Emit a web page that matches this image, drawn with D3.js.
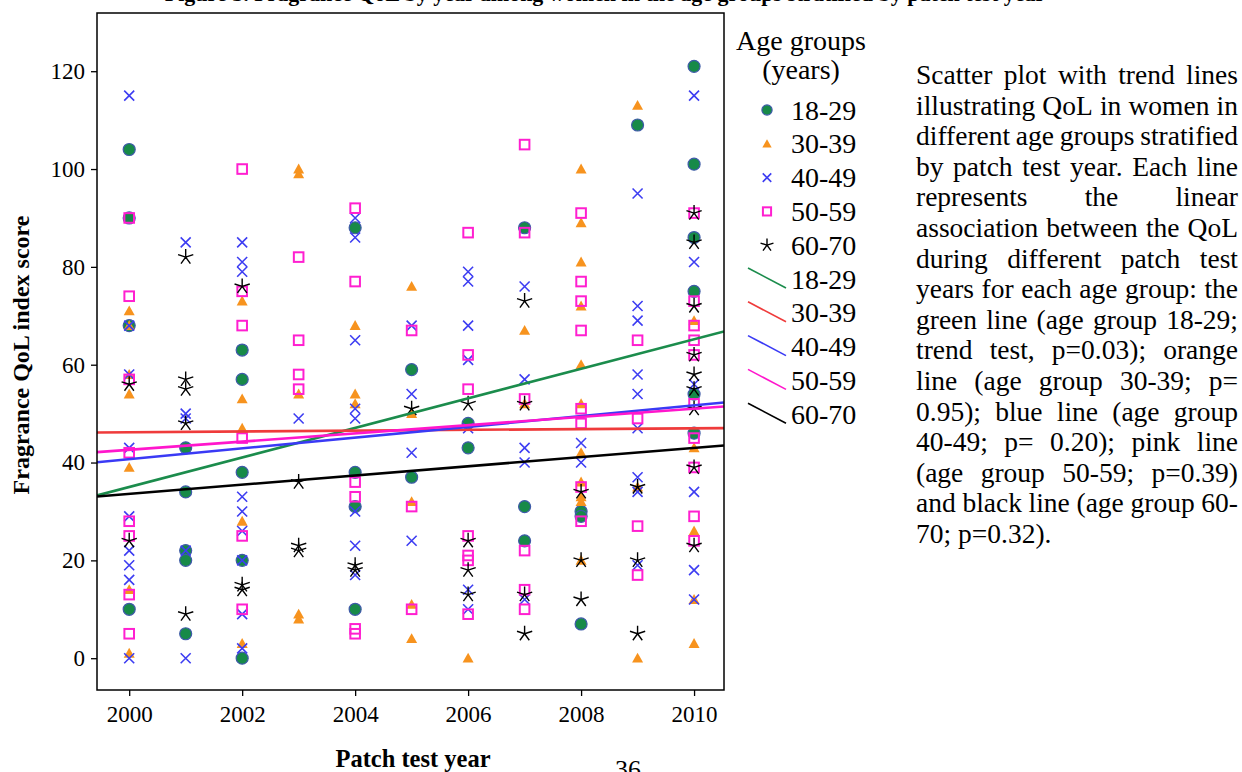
<!DOCTYPE html>
<html><head><meta charset="utf-8">
<script src="https://cdn.jsdelivr.net/npm/d3@7"></script>
<style>
html,body{margin:0;padding:0;background:#fff;}
svg{display:block;}
text{font-family:"Liberation Serif","Times New Roman",serif;fill:#000;}
</style></head><body>
<svg id="chart" width="1242" height="772"></svg>
<script>
// ---- data ----
const xTickYears = [2000, 2002, 2004, 2006, 2008, 2010];
const yTickValues = [0, 20, 40, 60, 80, 100, 120];
const ageGroups = ["18-29", "30-39", "40-49", "50-59", "60-70"];

// [patch test year, QoL index score]
const scores18to29 = [
  [2000,104],[2000,90],[2000,68],[2000,10],
  [2001,43],[2001,34],[2001,22],[2001,20],[2001,5],
  [2002,63],[2002,57],[2002,38],[2002,20],[2002,0],
  [2004,88],[2004,38],[2004,31],[2004,10],
  [2005,59],[2005,37],
  [2006,48],[2006,43],
  [2007,88],[2007,31],[2007,24],
  [2008,30],[2008,29],[2008,7],
  [2009,109],
  [2010,121],[2010,101],[2010,86],[2010,75],[2010,54],[2010,46]
];
const scores30to39 = [
  [2000,71],[2000,68],[2000,58],[2000,54],[2000,39],[2000,14],[2000,1],
  [2002,73],[2002,53],[2002,47],[2002,28],[2002,3],
  [2003,100],[2003,99],[2003,54],[2003,9],[2003,8],
  [2004,68],[2004,54],[2004,52],
  [2005,76],[2005,50],[2005,32],[2005,11],[2005,4],
  [2006,0],
  [2007,67],[2007,52],
  [2008,100],[2008,89],[2008,81],[2008,72],[2008,60],[2008,52],[2008,42],[2008,36],[2008,33],[2008,32],[2008,20],
  [2009,113],[2009,35],[2009,0],
  [2010,69],[2010,43],[2010,26],[2010,12],[2010,3]
];
const scores40to49 = [
  [2000,115],[2000,68],[2000,58],[2000,43],[2000,29],[2000,22],[2000,19],[2000,16],[2000,0],
  [2001,85],[2001,50],[2001,49],[2001,22],[2001,0],
  [2002,85],[2002,81],[2002,79],[2002,33],[2002,30],[2002,26],[2002,20],[2002,9],[2002,2],
  [2003,49],
  [2004,90],[2004,86],[2004,65],[2004,51],[2004,49],[2004,30],[2004,23],[2004,17],
  [2005,68],[2005,54],[2005,42],[2005,24],
  [2006,79],[2006,77],[2006,68],[2006,61],[2006,47],[2006,14],[2006,10],
  [2007,76],[2007,57],[2007,43],[2007,40],[2007,12],
  [2008,44],[2008,40],
  [2009,95],[2009,72],[2009,69],[2009,58],[2009,54],[2009,47],[2009,37],[2009,34],[2009,19],
  [2010,115],[2010,81],[2010,56],[2010,34],[2010,18],[2010,12]
];
const scores50to59 = [
  [2000,90],[2000,74],[2000,57],[2000,42],[2000,28],[2000,25],[2000,13],[2000,5],
  [2002,100],[2002,75],[2002,68],[2002,45],[2002,25],[2002,10],
  [2003,82],[2003,65],[2003,58],[2003,55],
  [2004,92],[2004,77],[2004,36],[2004,33],[2004,6],[2004,5],
  [2005,67],[2005,31],[2005,10],
  [2006,87],[2006,62],[2006,55],[2006,25],[2006,21],[2006,20],[2006,9],
  [2007,105],[2007,87],[2007,53],[2007,22],[2007,14],[2007,10],
  [2008,91],[2008,77],[2008,73],[2008,67],[2008,51],[2008,48],[2008,35],[2008,28],
  [2009,65],[2009,49],[2009,27],[2009,17],
  [2010,91],[2010,73],[2010,68],[2010,65],[2010,62],[2010,52],[2010,45],[2010,39],[2010,29],[2010,24]
];
const scores60to70 = [
  [2000,56],[2000,24],
  [2001,82],[2001,57],[2001,55],[2001,48],[2001,9],
  [2002,76],[2002,15],[2002,14],
  [2003,36],[2003,23],[2003,22],
  [2004,19],[2004,18],
  [2005,51],
  [2006,52],[2006,24],[2006,18],[2006,13],
  [2007,73],[2007,52],[2007,13],[2007,5],
  [2008,34],[2008,20],[2008,12],
  [2009,35],[2009,20],[2009,5],
  [2010,91],[2010,85],[2010,72],[2010,62],[2010,58],[2010,55],[2010,51],[2010,39],[2010,23]
];

// fitted linear trend per age group: predicted score at 2000 and at 2010
const trend18to29 = [35.0, 65.2];
const trend30to39 = [46.2, 47.0];
const trend40to49 = [40.7, 51.7];
const trend50to59 = [42.6, 51.0];
const trend60to70 = [33.6, 43.0];

const noteLines = [
  "Scatter plot with trend lines",
  "illustrating QoL in women in",
  "different age groups stratified",
  "by patch test year.  Each line",
  "represents the linear",
  "association between the QoL",
  "during different patch test",
  "years for each age group: the",
  "green line (age group 18-29;",
  "trend test, p=0.03); orange",
  "line (age group 30-39; p=",
  "0.95); blue line (age group",
  "40-49; p= 0.20); pink line",
  "(age group 50-59; p=0.39)",
  "and black line (age group 60-",
  "70; p=0.32)."
];

// ---- drawing ----
const svg = d3.select("#chart");
const frame = {left: 97, right: 724, top: 13, bottom: 690};

const x = d3.scaleLinear().domain([1999.43, 2010.53]).range([frame.left, frame.right]);
const y = d3.scaleLinear().domain([-6.5, 131.9]).range([frame.bottom, frame.top]);

const styles = {
  "18-29": {type: "circle", color: "#178a48", line: "#1b8c4c"},
  "30-39": {type: "triangle", color: "#f7931e", line: "#ef3b3b"},
  "40-49": {type: "cross", color: "#3d3df2", line: "#3a3af5"},
  "50-59": {type: "square", color: "#ff1fd0", line: "#ff16cc"},
  "60-70": {type: "star", color: "#000", line: "#000"}
};
const seriesData = {
  "18-29": scores18to29, "30-39": scores30to39, "40-49": scores40to49,
  "50-59": scores50to59, "60-70": scores60to70
};
const trendData = {
  "18-29": trend18to29, "30-39": trend30to39, "40-49": trend40to49,
  "50-59": trend50to59, "60-70": trend60to70
};

function drawMarker(g, type, color, s) {
  // s = scale factor for marker size
  if (type === "circle") {
    g.append("circle").attr("r", 6 * s).attr("fill", color)
      .attr("stroke", "#3e5aa8").attr("stroke-width", 1.2);
  } else if (type === "triangle") {
    const h = 5.5 * s;
    g.append("path").attr("d", `M0,${-h}L${h},${h * 0.8}L${-h},${h * 0.8}Z`).attr("fill", color);
  } else if (type === "cross") {
    const h = 5 * s;
    g.append("path").attr("d", `M${-h},${-h}L${h},${h}M${-h},${h}L${h},${-h}`)
      .attr("stroke", color).attr("stroke-width", 1.6).attr("fill", "none");
  } else if (type === "square") {
    const h = 4.8 * s;
    g.append("rect").attr("x", -h).attr("y", -h).attr("width", 2 * h).attr("height", 2 * h)
      .attr("fill", "none").attr("stroke", color).attr("stroke-width", 2);
  } else if (type === "star") {
    const r = 8 * s;
    let d = "";
    for (let k = 0; k < 5; k++) {
      const a = (-90 + 72 * k) * Math.PI / 180;
      d += `M0,0L${(r * Math.cos(a)).toFixed(2)},${(r * Math.sin(a)).toFixed(2)}`;
    }
    g.append("path").attr("d", d).attr("stroke", color).attr("stroke-width", 1.4).attr("fill", "none");
  }
}

// clipped plot region
svg.append("defs").append("clipPath").attr("id", "plotClip")
  .append("rect").attr("x", frame.left).attr("y", frame.top)
  .attr("width", frame.right - frame.left).attr("height", frame.bottom - frame.top);

const plot = svg.append("g").attr("clip-path", "url(#plotClip)");

ageGroups.forEach(grp => {
  const st = styles[grp];
  const layer = plot.append("g");
  seriesData[grp].forEach(([yr, v]) => {
    const m = layer.append("g").attr("transform", `translate(${x(yr)},${y(v)})`);
    drawMarker(m, st.type, st.color, 1);
  });
});

// trend lines across the full x range
const [x0, x1] = x.domain();
ageGroups.forEach(grp => {
  const [a, b] = trendData[grp];
  const f = t => a + (b - a) * (t - 2000) / 10;
  plot.append("line")
    .attr("x1", x(x0)).attr("y1", y(f(x0)))
    .attr("x2", x(x1)).attr("y2", y(f(x1)))
    .attr("stroke", styles[grp].line).attr("stroke-width", 2.6);
});

// frame
svg.append("rect").attr("x", frame.left).attr("y", frame.top)
  .attr("width", frame.right - frame.left).attr("height", frame.bottom - frame.top)
  .attr("fill", "none").attr("stroke", "#000").attr("stroke-width", 1.5);

// axes
const yAxis = d3.axisLeft(y).tickValues(yTickValues).tickSize(6).tickPadding(6);
const gy = svg.append("g").attr("transform", `translate(${frame.left},0)`).call(yAxis);
gy.select(".domain").remove();
gy.selectAll("text").style("font-family", '"Liberation Serif", serif').style("font-size", "23px");
gy.selectAll("line").attr("stroke-width", 1.3);

const xAxis = d3.axisBottom(x).tickValues(xTickYears).tickFormat(d3.format("d")).tickSize(6).tickPadding(10);
const gx = svg.append("g").attr("transform", `translate(0,${frame.bottom})`).call(xAxis);
gx.select(".domain").remove();
gx.selectAll("text").style("font-family", '"Liberation Serif", serif').style("font-size", "23px");
gx.selectAll("line").attr("stroke-width", 1.3);

// axis titles
svg.append("text").attr("x", 413).attr("y", 767).attr("text-anchor", "middle")
  .style("font-weight", "bold").style("font-size", "24.5px").text("Patch test year");
svg.append("text").attr("transform", "translate(29,355) rotate(-90)").attr("text-anchor", "middle")
  .style("font-weight", "bold").style("font-size", "24px").text("Fragrance QoL index score");

// page number
svg.append("text").attr("x", 628).attr("y", 778).attr("text-anchor", "middle")
  .style("font-size", "26px").text("36");

// figure heading (runs off the top edge)
svg.append("text").attr("x", 605).attr("y", 1).attr("text-anchor", "middle")
  .style("font-weight", "bold").style("font-size", "22px")
  .text("Figure 3. Fragrance QoL by year among women in the age groups stratified by patch test year");

// legend
const lg = svg.append("g");
const lgSize = "28px";
lg.append("text").attr("x", 801).attr("y", 50).attr("text-anchor", "middle")
  .style("font-size", lgSize).text("Age groups");
lg.append("text").attr("x", 801).attr("y", 79).attr("text-anchor", "middle")
  .style("font-size", lgSize).text("(years)");
const rowY = i => 110 + i * 33.8;
ageGroups.forEach((grp, i) => {
  const m = lg.append("g").attr("transform", `translate(767,${rowY(i)})`);
  drawMarker(m, styles[grp].type, styles[grp].color, 0.85);
  lg.append("text").attr("x", 791).attr("y", rowY(i) + 9.5).style("font-size", lgSize).text(grp);
});
ageGroups.forEach((grp, j) => {
  const i = j + 5;
  const cy = rowY(i);
  lg.append("line").attr("x1", 748).attr("y1", cy - 11).attr("x2", 786).attr("y2", cy + 9)
    .attr("stroke", styles[grp].line).attr("stroke-width", 1.6);
  lg.append("text").attr("x", 791).attr("y", cy + 9.5).style("font-size", lgSize).text(grp);
});

// justified note block
const note = svg.append("g");
const noteLeft = 916, noteRight = 1238, noteTop = 84, noteStep = 30.6, noteSize = 27.5;
noteLines.forEach((line, i) => {
  const yy = noteTop + i * noteStep;
  const words = line.split(/\s+/);
  const last = i === noteLines.length - 1;
  if (last) {
    note.append("text").attr("x", noteLeft).attr("y", yy).style("font-size", noteSize + "px").text(line);
    return;
  }
  const nodes = words.map(w => note.append("text").attr("y", yy).style("font-size", noteSize + "px").text(w));
  const widths = nodes.map(n => n.node().getComputedTextLength());
  const total = d3.sum(widths);
  const gap = words.length > 1 ? (noteRight - noteLeft - total) / (words.length - 1) : 0;
  let cx = noteLeft;
  nodes.forEach((n, k) => { n.attr("x", cx); cx += widths[k] + gap; });
});
</script>
</body></html>
